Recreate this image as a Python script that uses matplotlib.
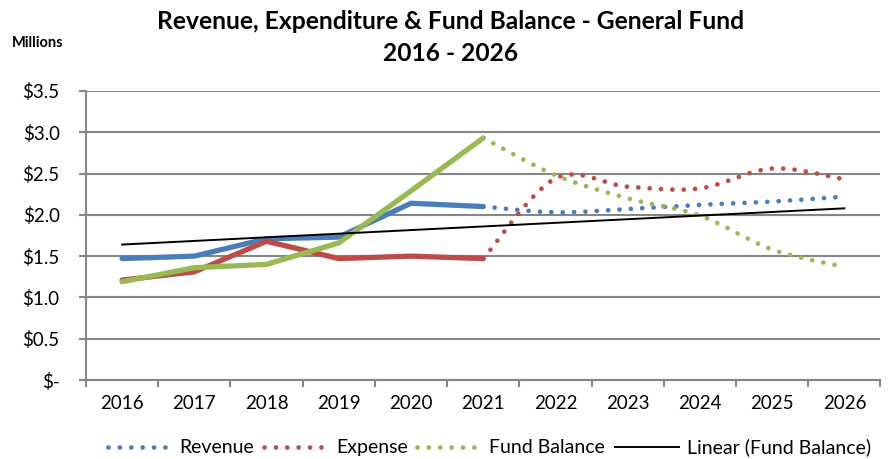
import numpy as np
import matplotlib.pyplot as plt
from matplotlib.lines import Line2D

plt.rcParams['font.family'] = ['Lato', 'DejaVu Sans']

years = ["2016", "2017", "2018", "2019", "2020", "2021",
         "2022", "2023", "2024", "2025", "2026"]

# actuals 2016-2021, forecasts 2021-2026 ($ millions)
revenue_actual = [1.47, 1.50, 1.71, 1.73, 2.14, 2.10]
revenue_fcst = [2.10, 2.03, 2.07, 2.12, 2.16, 2.22]
expense_actual = [1.21, 1.31, 1.68, 1.47, 1.50, 1.47]
expense_fcst = [1.47, 2.44, 2.34, 2.32, 2.56, 2.43]
fund_actual = [1.19, 1.36, 1.40, 1.66, 2.29, 2.93]
fund_fcst = [2.93, 2.48, 2.20, 1.99, 1.58, 1.37]

BLUE = "#4A7EBB"
RED = "#BE4B48"
GREEN = "#98B954"
GRID = "#868686"


def smooth(x, y, n=30):
    # Excel-style smoothed line (bezier through points)
    x = np.asarray(x, float)
    y = np.asarray(y, float)
    px = np.concatenate([[x[0]], x, [x[-1]]])
    py = np.concatenate([[y[0]], y, [y[-1]]])
    xs, ys = [], []
    t = np.linspace(0, 1, n)
    for i in range(len(x) - 1):
        p0 = np.array([px[i + 1], py[i + 1]])
        p3 = np.array([px[i + 2], py[i + 2]])
        p1 = p0 + (np.array([px[i + 2], py[i + 2]]) - np.array([px[i], py[i]])) / 6
        p2 = p3 - (np.array([px[i + 3], py[i + 3]]) - np.array([px[i + 1], py[i + 1]])) / 6
        b = ((1 - t) ** 3)[:, None] * p0 + (3 * (1 - t) ** 2 * t)[:, None] * p1 \
            + (3 * (1 - t) * t ** 2)[:, None] * p2 + (t ** 3)[:, None] * p3
        xs.extend(b[:, 0])
        ys.extend(b[:, 1])
    return np.array(xs), np.array(ys)


fig = plt.figure(figsize=(8.93, 4.59), dpi=100)
ax = fig.add_axes([0.0963, 0.172, 0.8897, 0.630])

xa = np.arange(6)
xf = np.arange(5, 11)
dots = (0, (0.01, 2.4))

ax.plot(xa, revenue_actual, color=BLUE, lw=3.8, solid_capstyle='round', zorder=3)
ax.plot(xa, expense_actual, color=RED, lw=3.8, solid_capstyle='round', zorder=3)
ax.plot(xa, fund_actual, color=GREEN, lw=3.8, solid_capstyle='round', zorder=4)

for vals, c in [(revenue_fcst, BLUE), (expense_fcst, RED), (fund_fcst, GREEN)]:
    sx, sy = smooth(xf, vals)
    ax.plot(sx, sy, color=c, lw=3.4, linestyle=dots, dash_capstyle='round', zorder=3)

# linear trendline of the fund balance (actual + forecast)
fund_all = fund_actual + fund_fcst[1:]
xall = np.arange(len(fund_all))
k, b0 = np.polyfit(xall, fund_all, 1)
ax.plot(xall, k * xall + b0, color="black", lw=1.4, zorder=5)

ax.set_xlim(-0.5, 10.5)
ax.set_ylim(0, 3.5)
ax.set_yticks(np.arange(0, 3.51, 0.5))
ax.set_yticklabels(["$-"] + [f"${v:.1f}" for v in np.arange(0.5, 3.51, 0.5)], fontsize=13.5)
ax.set_xticks(np.arange(11))
ax.set_xticklabels(years, fontsize=13.5)
ax.set_xticks(np.arange(-0.5, 11, 1), minor=True)
ax.tick_params(axis='x', which='major', length=0, pad=11)
ax.tick_params(axis='x', which='minor', length=5, color=GRID, width=1.5)
ax.tick_params(axis='y', length=5, color=GRID, width=1.5, pad=14)
ax.grid(axis='y', color=GRID, lw=1.5, zorder=0)
ax.set_axisbelow(True)
for s in ['top', 'right']:
    ax.spines[s].set_visible(False)
for s in ['left', 'bottom']:
    ax.spines[s].set_color(GRID)
    ax.spines[s].set_linewidth(1.5)

fig.text(0.505, 0.954, "Revenue, Expenditure & Fund Balance - General Fund",
         ha='center', va='center', fontsize=17.7, fontweight='bold')
fig.text(0.505, 0.884, "2016 - 2026", ha='center', va='center',
         fontsize=17.7, fontweight='bold')
fig.text(0.013, 0.906, "Millions", ha='left', va='center', fontsize=10.5, fontweight='bold')

handles = [
    Line2D([], [], color=BLUE, lw=3.4, linestyle=dots, dash_capstyle='round'),
    Line2D([], [], color=RED, lw=3.4, linestyle=dots, dash_capstyle='round'),
    Line2D([], [], color=GREEN, lw=3.4, linestyle=dots, dash_capstyle='round'),
    Line2D([], [], color="black", lw=1.4),
]
fig.legend(handles, ["Revenue", "Expense", "Fund Balance", "Linear (Fund Balance)"],
           loc='center', bbox_to_anchor=(0.548, 0.025), ncol=4, frameon=False,
           fontsize=14, handlelength=3.3, handletextpad=0.4, columnspacing=0.5)

fig.savefig("out.png", dpi=100)
